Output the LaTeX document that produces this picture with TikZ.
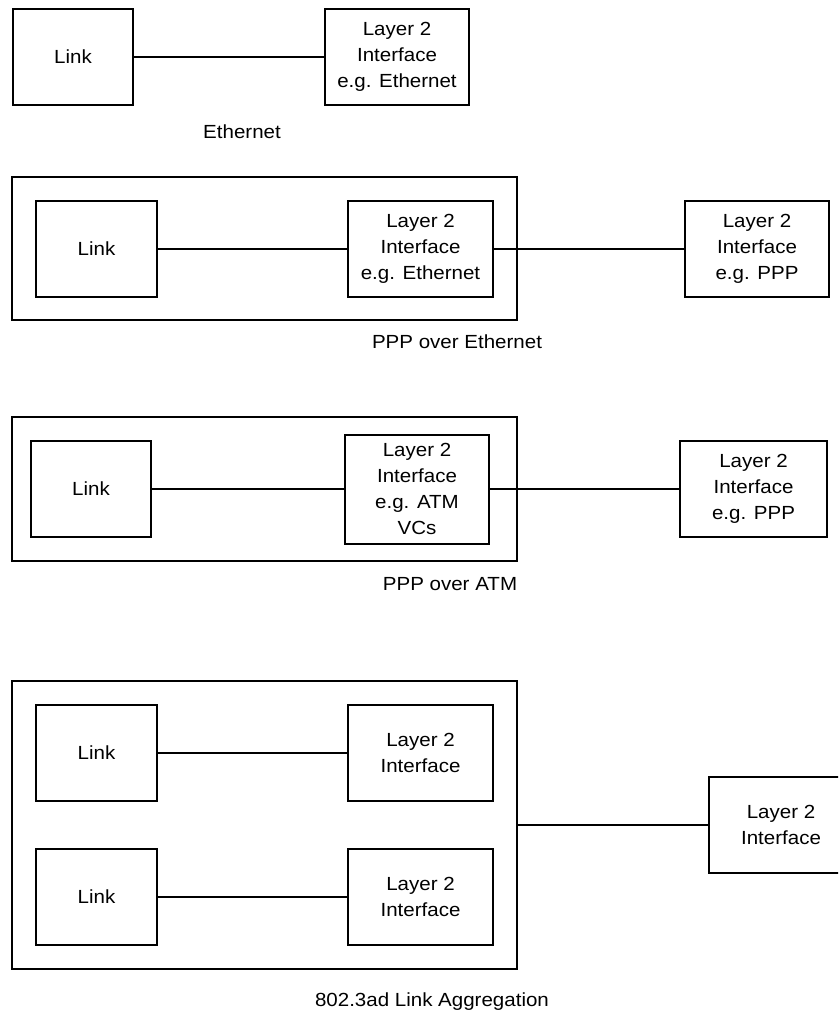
\documentclass[tikz,border=0pt]{standalone}
\usepackage{fontspec}
\setmainfont[FakeStretch=1.08]{Liberation Sans}

\begin{document}
\begin{tikzpicture}[x=1pt,y=-1pt,line width=2pt,
	box/.style={draw,minimum width=120pt,minimum height=96pt,inner sep=0pt,
		align=center,font=\fontsize{19}{26}\selectfont},
	ifbox/.style={box,minimum width=144pt},
	frame/.style={draw,minimum width=505pt,inner sep=0pt},
	caption/.style={font=\fontsize{19}{26}\selectfont}]
	\useasboundingbox (0,0) rectangle (838,1014);
	\clip (0,0) rectangle (838,1014);
	
	% Ethernet
	\node[box] (linkA) at (73,57) {Link};
	\node[ifbox] (ethA) at (397,57) {Layer 2\\Interface\\e.g. Ethernet};
	\draw (linkA) -- (ethA);
	\node[caption] (capA) at (242,132) {Ethernet};
	
	% PPP over Ethernet
	\node[frame,minimum height=143pt] (frameB) at (264.5,248.5) {};
	\node[box,minimum width=121pt] (linkB) at (96.5,249) {Link};
	\node[ifbox,minimum width=145pt] (ethB) at (420.5,249) {Layer 2\\Interface\\e.g. Ethernet};
	\node[ifbox] (pppB) at (757,249) {Layer 2\\Interface\\e.g. PPP};
	\draw (linkB) -- (ethB);
	\draw (ethB) -- (pppB);
	\node[caption] (capB) at (457,342) {PPP over Ethernet};
	
	% PPP over ATM
	\node[frame,minimum height=144pt] (frameC) at (264.5,489) {};
	\node[box] (linkC) at (91,489) {Link};
	\node[ifbox,minimum height=109pt] (atmC) at (417,489) {Layer 2\\Interface\\e.g. ATM\\VCs};
	\node[ifbox,minimum width=147pt] (pppC) at (753.5,489) {Layer 2\\Interface\\e.g. PPP};
	\draw (linkC) -- (atmC);
	\draw ([xshift=-2pt]atmC.east) -- (pppC);
	\node[caption] (capC) at (450,584) {PPP over ATM};
	
	% 802.3ad Link Aggregation
	\node[frame,minimum height=288pt] (frameD) at (264.5,825) {};
	\node[box,minimum width=121pt] (linkD1) at (96.5,753) {Link};
	\node[ifbox,minimum width=145pt] (ifD1) at (420.5,753) {Layer 2\\Interface};
	\node[box,minimum width=121pt] (linkD2) at (96.5,897) {Link};
	\node[ifbox,minimum width=145pt] (ifD2) at (420.5,897) {Layer 2\\Interface};
	\node[ifbox] (ifD) at (781,825) {Layer 2\\Interface};
	\draw (linkD1) -- (ifD1);
	\draw (linkD2) -- (ifD2);
	\draw (frameD) -- (ifD);
	\node[caption] (capD) at (432,1002) {802.3ad Link Aggregation};
\end{tikzpicture}
\end{document}
